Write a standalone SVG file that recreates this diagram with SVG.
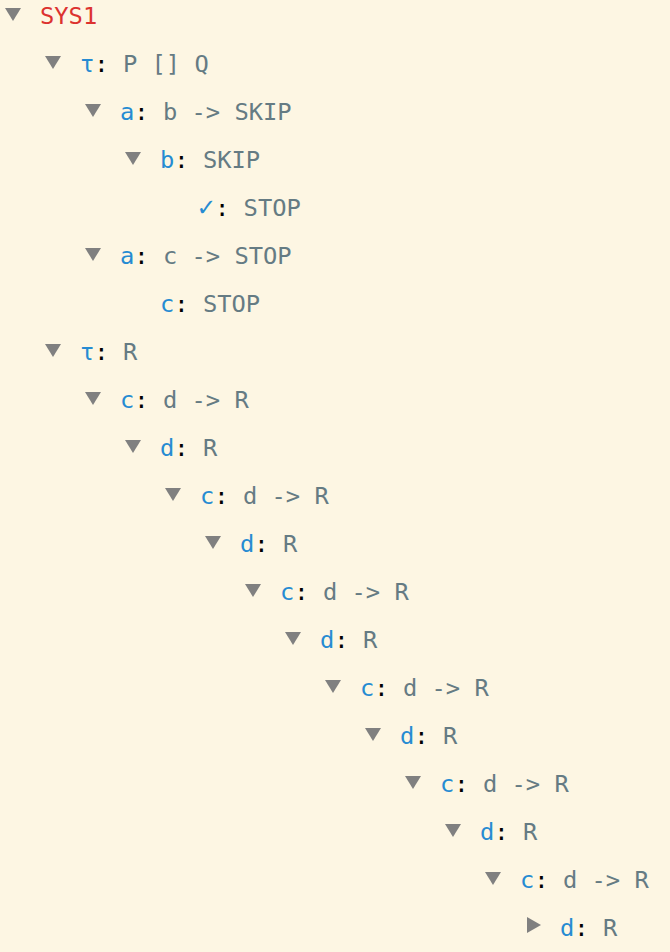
<svg xmlns="http://www.w3.org/2000/svg" width="670" height="952" viewBox="0 0 670 952">
<style>
text{font-family:"DejaVu Sans Mono","Liberation Mono",monospace;font-size:23.75px;fill:#657b83;white-space:pre}
.root{fill:#dc322f}
.ev{fill:#268bd2}
.chk{fill:#268bd2;font-size:27px}
.col{fill:#000}
.tri{fill:#808080}
</style>
<rect x="0" y="0" width="670" height="952" fill="#fdf6e3"/>
<defs>
<polygon id="down" points="0,0 16,0 8,13"/>
<polygon id="right" points="0,0 0,16 14,8"/>
</defs>
<g id="n0"><use href="#down" class="tri" x="5" y="8"/><text x="40" y="24" class="root">SYS1</text></g>
<g id="n1"><use href="#down" class="tri" x="45" y="56"/><text x="80" y="72"><tspan class="ev">τ</tspan><tspan class="col">:</tspan> P [] Q</text></g>
<g id="n2"><use href="#down" class="tri" x="85" y="104"/><text x="120" y="120"><tspan class="ev">a</tspan><tspan class="col">:</tspan> b -&gt; SKIP</text></g>
<g id="n3"><use href="#down" class="tri" x="125" y="152"/><text x="160" y="168"><tspan class="ev">b</tspan><tspan class="col">:</tspan> SKIP</text></g>
<g id="n4"><text x="198" y="216"><tspan class="chk">✓</tspan></text><text x="215" y="216"><tspan class="col">:</tspan> STOP</text></g>
<g id="n5"><use href="#down" class="tri" x="85" y="248"/><text x="120" y="264"><tspan class="ev">a</tspan><tspan class="col">:</tspan> c -&gt; STOP</text></g>
<g id="n6"><text x="160" y="312"><tspan class="ev">c</tspan><tspan class="col">:</tspan> STOP</text></g>
<g id="n7"><use href="#down" class="tri" x="45" y="344"/><text x="80" y="360"><tspan class="ev">τ</tspan><tspan class="col">:</tspan> R</text></g>
<g id="n8"><use href="#down" class="tri" x="85" y="392"/><text x="120" y="408"><tspan class="ev">c</tspan><tspan class="col">:</tspan> d -&gt; R</text></g>
<g id="n9"><use href="#down" class="tri" x="125" y="440"/><text x="160" y="456"><tspan class="ev">d</tspan><tspan class="col">:</tspan> R</text></g>
<g id="n10"><use href="#down" class="tri" x="165" y="488"/><text x="200" y="504"><tspan class="ev">c</tspan><tspan class="col">:</tspan> d -&gt; R</text></g>
<g id="n11"><use href="#down" class="tri" x="205" y="536"/><text x="240" y="552"><tspan class="ev">d</tspan><tspan class="col">:</tspan> R</text></g>
<g id="n12"><use href="#down" class="tri" x="245" y="584"/><text x="280" y="600"><tspan class="ev">c</tspan><tspan class="col">:</tspan> d -&gt; R</text></g>
<g id="n13"><use href="#down" class="tri" x="285" y="632"/><text x="320" y="648"><tspan class="ev">d</tspan><tspan class="col">:</tspan> R</text></g>
<g id="n14"><use href="#down" class="tri" x="325" y="680"/><text x="360" y="696"><tspan class="ev">c</tspan><tspan class="col">:</tspan> d -&gt; R</text></g>
<g id="n15"><use href="#down" class="tri" x="365" y="728"/><text x="400" y="744"><tspan class="ev">d</tspan><tspan class="col">:</tspan> R</text></g>
<g id="n16"><use href="#down" class="tri" x="405" y="776"/><text x="440" y="792"><tspan class="ev">c</tspan><tspan class="col">:</tspan> d -&gt; R</text></g>
<g id="n17"><use href="#down" class="tri" x="445" y="824"/><text x="480" y="840"><tspan class="ev">d</tspan><tspan class="col">:</tspan> R</text></g>
<g id="n18"><use href="#down" class="tri" x="485" y="872"/><text x="520" y="888"><tspan class="ev">c</tspan><tspan class="col">:</tspan> d -&gt; R</text></g>
<g id="n19"><use href="#right" class="tri" x="527" y="917"/><text x="560" y="936"><tspan class="ev">d</tspan><tspan class="col">:</tspan> R</text></g>
</svg>
